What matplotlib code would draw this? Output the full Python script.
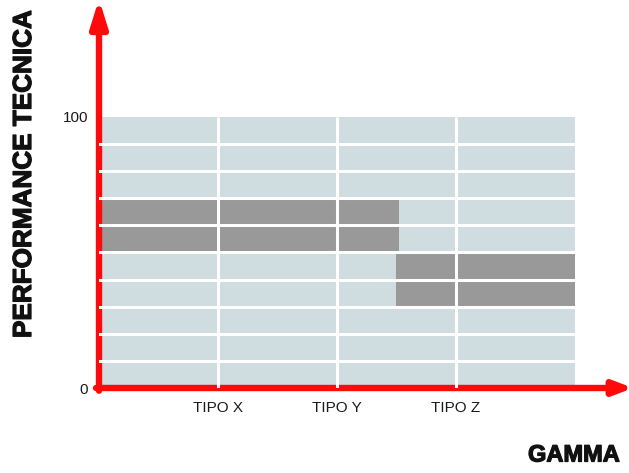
import matplotlib
matplotlib.use("Agg")
import matplotlib.pyplot as plt
import matplotlib.patheffects as pe

# data
perf_levels = [0, 10, 20, 30, 40, 50, 60, 70, 80, 90, 100]
gamma_edges = [0, 1, 2, 3, 4]
tipo_labels = ["TIPO X", "TIPO Y", "TIPO Z"]
tipo_pos = [1, 2, 3]
band_start = [0, 2.5]
band_end = [2.52, 4]
band_bottom = [50, 30]
band_top = [70, 50]

light = "#CFDCE0"
dark = "#999999"
red = "#FF0A0A"

plt.rcParams["font.family"] = ["Liberation Sans", "DejaVu Sans"]

W, H = 629, 473
fig = plt.figure(figsize=(W / 100, H / 100), dpi=100)

# axes placed so that x=0 sits on the red vertical axis and y=0 on the red horizontal axis
x0_px, y0_px = 99, 388
px_x = 119.0   # pixels per gamma unit
px_y = 2.71    # pixels per performance unit
ax = fig.add_axes([x0_px / W, (H - y0_px) / H, (W - x0_px) / W, y0_px / H])
ax.set_xlim(0, (W - x0_px) / px_x)
ax.set_ylim(0, y0_px / px_y)
for s in ax.spines.values():
    s.set_visible(False)

# background cells
ax.barh(perf_levels[:-1], gamma_edges[-1] - gamma_edges[0], height=10, left=gamma_edges[0],
        align="edge", color=light, zorder=1)

# dark bands
widths = [e - s for s, e in zip(band_start, band_end)]
heights = [t - b for b, t in zip(band_bottom, band_top)]
ax.barh(band_bottom, widths, height=heights, left=band_start, align="edge", color=dark, zorder=2)

# white separators
ax.hlines(perf_levels[1:-1], -0.015, gamma_edges[-1], color="white", lw=2.2, zorder=5)
ax.vlines(tipo_pos, -1.2, perf_levels[-1], color="white", lw=2.2, zorder=5)

# red axes with arrows
x_tip = (633 - x0_px) / px_x
y_tip = (y0_px + 1) / px_y
ax.annotate("", xy=(x_tip, 0), xytext=(-0.025, 0),
            arrowprops=dict(arrowstyle="-|>,head_length=1.1,head_width=0.42", color=red,
                            lw=4.6, shrinkA=0, shrinkB=0, mutation_scale=10),
            annotation_clip=False, zorder=4)
ax.annotate("", xy=(0, y_tip), xytext=(0, -1.0),
            arrowprops=dict(arrowstyle="-|>,head_length=1.6,head_width=0.5", color=red,
                            lw=4.6, shrinkA=0, shrinkB=0, mutation_scale=10),
            annotation_clip=False, zorder=4)

# ticks
ax.set_yticks([perf_levels[0], perf_levels[-1]])
ax.set_yticklabels([str(perf_levels[0]), str(perf_levels[-1])])
ax.set_xticks(tipo_pos)
ax.set_xticklabels(tipo_labels)
ax.tick_params(axis="both", length=0, labelsize=11, colors="#1a1a1a")
ax.tick_params(axis="y", pad=8)
ax.tick_params(axis="x", pad=9)

# axis titles
heavy = [pe.withStroke(linewidth=0.9, foreground="#111111")]
fig.text(574 / W, 1 - 455 / H, "GAMMA", ha="center", va="center",
         fontsize=17, fontweight="bold", color="#111111", path_effects=heavy)
fig.text(24 / W, 1 - 174 / H, "PERFORMANCE TECNICA", ha="center", va="center",
         rotation=90, fontsize=18.8, fontweight="bold", color="#111111", path_effects=heavy)

fig.savefig("out.png", dpi=100)
